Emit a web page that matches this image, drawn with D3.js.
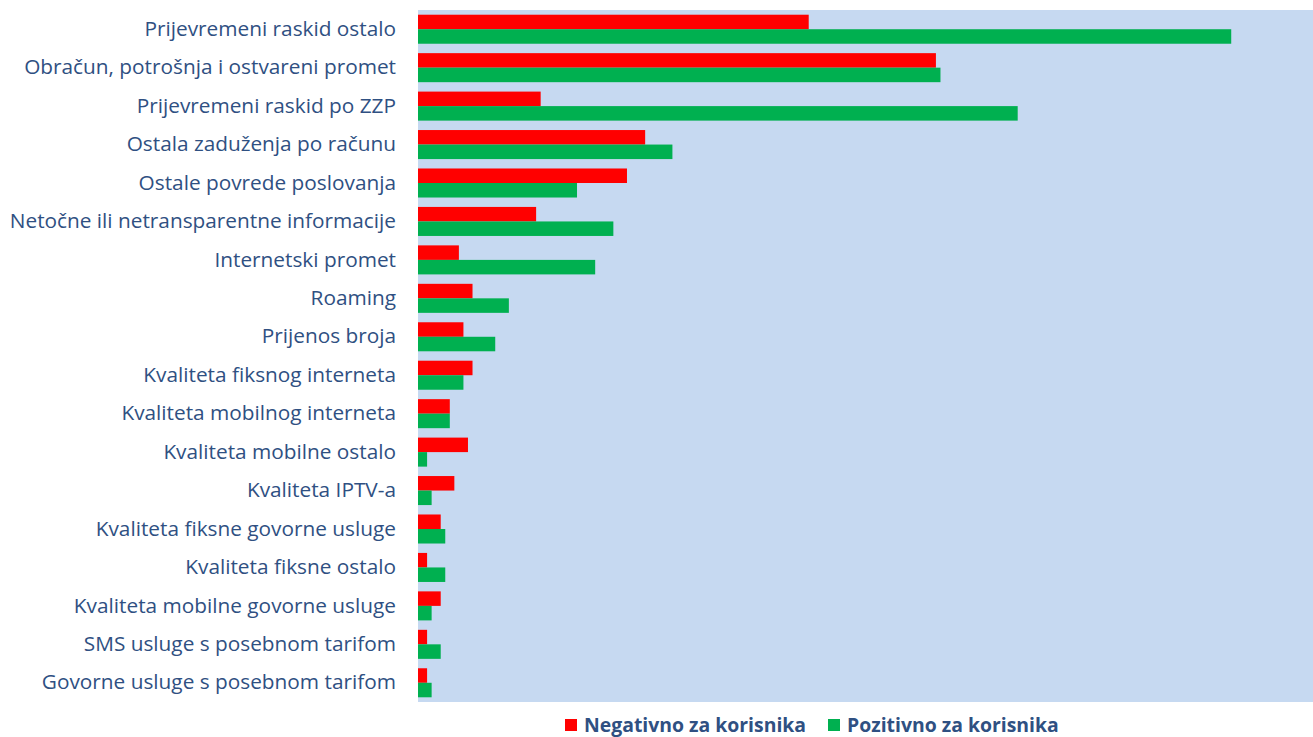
<!DOCTYPE html>
<html>
<head>
<meta charset="utf-8">
<script src="https://cdn.jsdelivr.net/npm/d3@7"></script>
<style>
  html, body { margin: 0; padding: 0; background: #fff; }
  svg { display: block; }
</style>
</head>
<body>
<svg id="chart" width="1313" height="737"></svg>
<script>
const categories = [
  "Prijevremeni raskid ostalo",
  "Obračun, potrošnja i ostvareni promet",
  "Prijevremeni raskid po ZZP",
  "Ostala zaduženja po računu",
  "Ostale povrede poslovanja",
  "Netočne ili netransparentne informacije",
  "Internetski promet",
  "Roaming",
  "Prijenos broja",
  "Kvaliteta fiksnog interneta",
  "Kvaliteta mobilnog interneta",
  "Kvaliteta mobilne ostalo",
  "Kvaliteta IPTV-a",
  "Kvaliteta fiksne govorne usluge",
  "Kvaliteta fiksne ostalo",
  "Kvaliteta mobilne govorne usluge",
  "SMS usluge s posebnom tarifom",
  "Govorne usluge s posebnom tarifom"
];
const negativno = [86, 114, 27, 50, 46, 26, 9, 12, 10, 12, 7, 11, 8, 5, 2, 5, 2, 2];
const pozitivno = [179, 115, 132, 56, 35, 43, 39, 20, 17, 10, 7, 2, 3, 6, 6, 3, 5, 3];
const seriesNames = ["Negativno za korisnika", "Pozitivno za korisnika"];
const seriesColors = ["#FF0000", "#00B050"];
const xMax = 197;

const svg = d3.select("#chart");
const pLeft = 418, pRight = 1313, pTop = 10, pBottom = 702;

const y = d3.scaleBand().domain(categories).range([pTop, pBottom])
  .paddingInner(0.245).paddingOuter(0.1225);
const x = d3.scaleLinear().domain([0, xMax]).range([pLeft, pRight]);
const ySub = d3.scaleBand().domain([0, 1]).range([0, y.bandwidth()]);

svg.append("rect").attr("x", pLeft).attr("y", pTop)
  .attr("width", pRight - pLeft).attr("height", pBottom - pTop)
  .attr("fill", "#C6D9F1");

const rows = categories.map((c, i) => ({c, vals: [negativno[i], pozitivno[i]]}));
const g = svg.append("g");
rows.forEach(r => {
  r.vals.forEach((v, k) => {
    g.append("rect")
      .attr("x", x(0))
      .attr("y", y(r.c) + ySub(k))
      .attr("width", x(v) - x(0))
      .attr("height", ySub.bandwidth())
      .attr("fill", seriesColors[k]);
  });
});

const yAxis = d3.axisLeft(y).tickSize(0).tickPadding(22);
const ax = svg.append("g").attr("transform", `translate(${pLeft},0)`).call(yAxis);
ax.select(".domain").remove();
ax.selectAll("text")
  .attr("fill", "#2F5082")
  .style("font-family", "'Open Sans', sans-serif")
  .style("font-size", "20.8px");

// legend
const legend = svg.append("g");
const legX = [565, 828];
seriesNames.forEach((n, k) => {
  legend.append("rect").attr("x", legX[k]).attr("y", 719).attr("width", 12).attr("height", 12)
    .attr("fill", seriesColors[k]);
  legend.append("text").attr("x", legX[k] + 19).attr("y", 732)
    .attr("fill", "#2F5082")
    .style("font-family", "'Open Sans', sans-serif")
    .style("font-size", "19.4px").style("font-weight", "bold")
    .text(n);
});
</script>
</body>
</html>
